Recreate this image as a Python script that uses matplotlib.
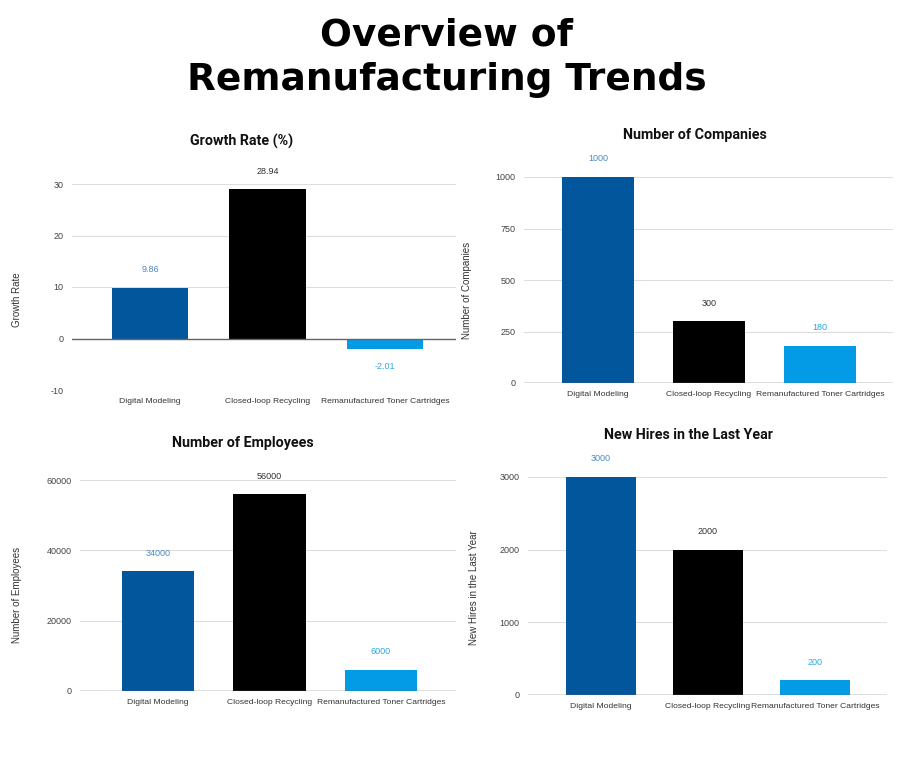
import matplotlib
matplotlib.use("Agg")
import matplotlib.pyplot as plt
from matplotlib.ticker import FixedLocator

categories = ["Digital Modeling", "Closed-loop Recycling", "Remanufactured Toner Cartridges"]
growth_rate = [9.86, 28.94, -2.01]
num_companies = [1000, 300, 180]
num_employees = [34000, 56000, 6000]
new_hires = [3000, 2000, 200]

growth_ticks = [-10, 0, 10, 20, 30]
companies_ticks = [0, 250, 500, 750, 1000]
employees_ticks = [0, 20000, 40000, 60000]
hires_ticks = [0, 1000, 2000, 3000]

bar_colors = ["#02569B", "#000000", "#039BE5"]
label_colors = ["#4A88C2", "#333333", "#29A8E0"]

W, H = 900, 759
fig = plt.figure(figsize=(W / 100, H / 100), dpi=100)
fig.patch.set_facecolor("white")

NARROW = ["Liberation Sans Narrow", "Liberation Sans", "DejaVu Sans"]

fig.text(447 / W, 1 - 35 / H, "Overview of", ha="center", va="center",
         fontsize=27, fontweight="bold", family=["DejaVu Sans"])
fig.text(447 / W, 1 - 80 / H, "Remanufacturing Trends", ha="center", va="center",
         fontsize=27, fontweight="bold", family=["DejaVu Sans"])


def panel(box, xlim, ylim, values, ticks, title, title_xy, ylabel, ylabel_xy, fmt):
    x0, x1, ytop, ybot = box
    ax = fig.add_axes([x0 / W, 1 - ybot / H, (x1 - x0) / W, (ybot - ytop) / H])
    xs = list(range(len(categories)))
    ax.bar(xs, values, width=0.65, color=bar_colors, zorder=3)
    ax.set_xlim(*xlim)
    ax.set_ylim(*ylim)
    ax.yaxis.set_major_locator(FixedLocator(ticks))
    ax.set_yticklabels([str(t) for t in ticks], family=NARROW, fontsize=6.5, color="#444444")
    ax.set_xticks(xs)
    ax.set_xticklabels(categories, family=NARROW, fontsize=6.1, color="#333333")
    ax.tick_params(axis="both", length=0)
    ax.tick_params(axis="y", pad=6)
    ax.tick_params(axis="x", pad=6)
    for s in ax.spines.values():
        s.set_visible(False)
    ax.grid(axis="y", color="#DDDDDD", linewidth=0.8, zorder=0)
    ax.axhline(0, color="#666666", linewidth=1.0, zorder=4)
    for i, v in enumerate(values):
        off = 13 if v >= 0 else -13
        ax.annotate(fmt(v), (i, v), xytext=(0, off), textcoords="offset points",
                    ha="center", va="center", fontsize=6.5, family=NARROW,
                    color=label_colors[i])
    fig.text(title_xy[0] / W, 1 - title_xy[1] / H, title, ha="center", va="center",
             fontsize=10.3, fontweight="bold", family=["Roboto", "DejaVu Sans"],
             color="#111111")
    fig.text(ylabel_xy[0] / W, 1 - ylabel_xy[1] / H, ylabel, ha="center", va="center",
             rotation=90, fontsize=7, family=["Liberation Sans", "DejaVu Sans"],
             color="#333333")
    return ax


panel((72, 456, 184, 390), (-0.664, 2.604), (-10, 30), growth_rate, growth_ticks,
      "Growth Rate (%)", (242, 141), "Growth Rate", (17, 300), lambda v: f"{v:.2f}")
panel((524, 893, 177, 383), (-0.667, 2.658), (0, 1000), num_companies, companies_ticks,
      "Number of Companies", (695, 135), "Number of Companies", (467, 290), lambda v: f"{v:d}")
panel((80, 456, 480, 691), (-0.70, 2.673), (0, 60000), num_employees, employees_ticks,
      "Number of Employees", (243, 443), "Number of Employees", (17, 595), lambda v: f"{v:d}")
panel((528, 887, 477, 695), (-0.682, 2.673), (0, 3000), new_hires, hires_ticks,
      "New Hires in the Last Year", (688, 435), "New Hires in the Last Year", (474, 588),
      lambda v: f"{v:d}")

fig.savefig("out.png", dpi=100, facecolor="white")
